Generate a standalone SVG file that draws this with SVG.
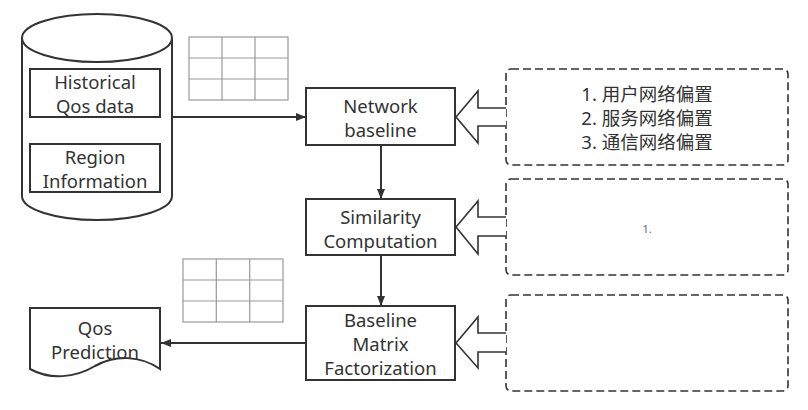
<svg xmlns="http://www.w3.org/2000/svg" width="808" height="410" viewBox="0 0 808 410">
<defs>
<style>
.t{font-family:"Noto Sans","Noto Sans CJK SC",sans-serif;font-size:18.5px;fill:#333;text-anchor:middle;dominant-baseline:central}
.cn{font-family:"Noto Sans","Noto Sans CJK SC",sans-serif;font-size:18.5px;fill:#333;text-anchor:middle;dominant-baseline:central}
.small{font-family:"Noto Sans",sans-serif;font-size:11px;fill:#666;text-anchor:middle;dominant-baseline:central}
.box{fill:#fff;stroke:#333;stroke-width:2}
.dash{fill:#fff;stroke:#333;stroke-width:1.6;stroke-dasharray:8 4}
.grid{fill:none;stroke:#999;stroke-width:1.2}
.line{fill:none;stroke:#333;stroke-width:2}
.hollow{fill:#fff;stroke:#333;stroke-width:1.6;stroke-linejoin:miter}
</style>
<marker id="ah" markerWidth="10" markerHeight="8" refX="10" refY="4" orient="auto" markerUnits="userSpaceOnUse">
<path d="M0,0 L10,4 L0,8 Z" fill="#333"/>
</marker>
</defs>
<rect width="808" height="410" fill="#fff"/>

<g id="database">
<path d="M22,38 A75,24 0 0,1 172,38 L172,196 A75,24 0 0,1 22,196 Z" fill="#fff" stroke="#333" stroke-width="2"/>
<path d="M22,38 A75,24 0 0,0 172,38" fill="none" stroke="#333" stroke-width="2"/>
<rect class="box" x="30" y="69" width="130" height="48"/>
<text class="t" x="95" y="81">Historical</text>
<text class="t" x="95" y="105">Qos data</text>
<rect class="box" x="30" y="144" width="130" height="48"/>
<text class="t" x="95" y="156">Region</text>
<text class="t" x="95" y="180">Information</text>
</g>

<g id="grid1">
<rect class="grid" x="189" y="37" width="99" height="63"/>
<path class="grid" d="M222,37 V100 M255,37 V100 M189,58 H288 M189,79 H288"/>
</g>

<g id="grid2">
<rect class="grid" x="183" y="259" width="100" height="63"/>
<path class="grid" d="M216.3,259 V322 M249.7,259 V322 M183,280 H283 M183,301 H283"/>
</g>

<g id="network-baseline">
<rect class="box" x="306" y="88" width="149" height="57"/>
<text class="t" x="380.5" y="105">Network</text>
<text class="t" x="380.5" y="129">baseline</text>
</g>

<g id="similarity">
<rect class="box" x="306" y="199" width="149" height="56"/>
<text class="t" x="380.5" y="216">Similarity</text>
<text class="t" x="380.5" y="240">Computation</text>
</g>

<g id="bmf">
<rect class="box" x="306" y="306" width="149" height="74"/>
<text class="t" x="380.5" y="319">Baseline</text>
<text class="t" x="380.5" y="343">Matrix</text>
<text class="t" x="380.5" y="367">Factorization</text>
</g>

<g id="qos-prediction">
<path d="M30,308 H160 V369 C140,355 115,355 95,366 C75,378 50,380 30,369 Z" fill="#fff" stroke="#333" stroke-width="2"/>
<text class="t" x="95" y="327">Qos</text>
<text class="t" x="95" y="351">Prediction</text>
</g>

<g id="bias-box">
<rect class="dash" x="506" y="69" width="282" height="96" rx="5"/>
<text class="cn" x="647" y="93">1. 用户网络偏置</text>
<text class="cn" x="647" y="117">2. 服务网络偏置</text>
<text class="cn" x="647" y="141">3. 通信网络偏置</text>
</g>

<g id="sim-box">
<rect class="dash" x="506" y="179" width="282" height="96" rx="5"/>
<text class="small" x="647" y="228">1.</text>
</g>

<g id="bmf-box">
<rect class="dash" x="506" y="295" width="282" height="96" rx="5"/>
</g>

<g id="connectors">
<line class="line" x1="172" y1="117" x2="306" y2="117" marker-end="url(#ah)"/>
<line class="line" x1="381" y1="145" x2="381" y2="199" marker-end="url(#ah)"/>
<line class="line" x1="381" y1="255" x2="381" y2="306" marker-end="url(#ah)"/>
<line class="line" x1="306" y1="343" x2="161" y2="343" marker-end="url(#ah)"/>
<path class="hollow" d="M506,108 H478 V91 L456,117 L478,143 V126 H506"/>
<path class="hollow" d="M506,217 H478 V201 L456,227 L478,254 V236 H506"/>
<path class="hollow" d="M506,333 H478 V317 L456,343 L478,368 V352 H506"/>
</g>
</svg>
